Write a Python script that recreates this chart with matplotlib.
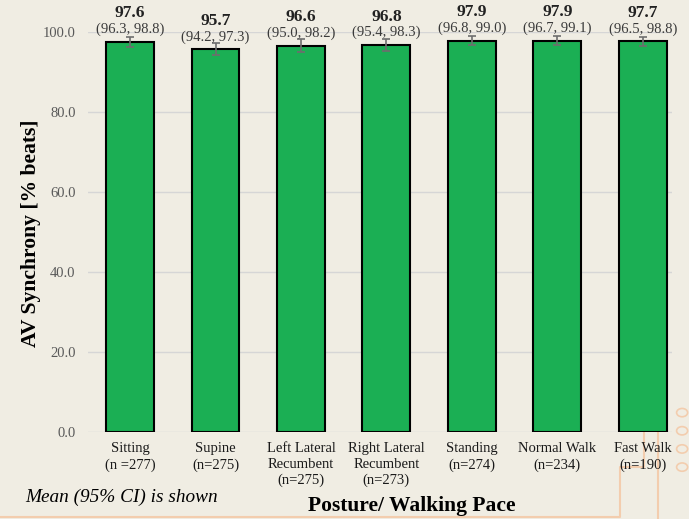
import numpy as np
import matplotlib
matplotlib.use("Agg")
import matplotlib.pyplot as plt
from matplotlib.lines import Line2D

# Data
categories = ["Sitting\n(n =277)", "Supine\n(n=275)", "Left Lateral\nRecumbent\n(n=275)",
              "Right Lateral\nRecumbent\n(n=273)", "Standing\n(n=274)",
              "Normal Walk\n(n=234)", "Fast Walk\n(n=190)"]
means = [97.6, 95.7, 96.6, 96.8, 97.9, 97.9, 97.7]
ci_low = [96.3, 94.2, 95.0, 95.4, 96.8, 96.7, 96.5]
ci_high = [98.8, 97.3, 98.2, 98.3, 99.0, 99.1, 98.8]
yticks = [0, 20, 40, 60, 80, 100]

bg = "#F0EDE3"
plt.rcParams["font.family"] = ["Liberation Serif", "DejaVu Serif"]

fig = plt.figure(figsize=(6.89, 5.19), dpi=100, facecolor=bg)
ax = fig.add_axes([0.128, 0.168, 0.847, 0.770])
ax.set_facecolor(bg)

# decorative circuit lines (background)
deco = "#F3CDAE"
for xs, ys in [([0.0, 0.90, 0.90, 0.935, 0.935], [0.004, 0.004, 0.10, 0.10, 0.20]),
               ([0.955, 0.955], [0.0, 0.22])]:
    fig.add_artist(Line2D(xs, ys, color=deco, lw=1.5, zorder=0))
for yy in [0.10, 0.135, 0.17, 0.205]:
    fig.add_artist(plt.Circle((0.99, yy), 0.008, fill=False, ec=deco, lw=1.2,
                              transform=fig.transFigure, zorder=0))

x = np.arange(len(categories))
means = np.array(means)
err = [means - np.array(ci_low), np.array(ci_high) - means]

ax.bar(x, means, width=0.56, color="#1BAF54", edgecolor="black", linewidth=1.5, zorder=3)
ax.errorbar(x, means, yerr=err, fmt="none", ecolor="#6E6E6E", elinewidth=1.2,
            capsize=3, capthick=1.2, zorder=4)

for xi, m, lo, hi in zip(x, means, ci_low, ci_high):
    ax.annotate(f"{m:.1f}", (xi, m), xytext=(0, 17.5), textcoords="offset points",
                ha="center", va="baseline", fontsize=12.5, fontweight="bold",
                color="#222222", annotation_clip=False)
    ax.annotate(f"({lo:.1f}, {hi:.1f})", (xi, m), xytext=(0, 6.3), textcoords="offset points",
                ha="center", va="baseline", fontsize=10.5, color="#3A3A3A",
                annotation_clip=False, zorder=5)

ax.set_ylim(0, 100)
ax.set_xlim(-0.49, 6.34)
ax.set_yticks(yticks)
ax.set_yticklabels([f"{v:.1f}" for v in yticks], fontsize=10.5, color="#595959")
ax.set_xticks(x)
ax.set_xticklabels(categories, fontsize=10.5, color="#1A1A1A", linespacing=1.28)
ax.tick_params(axis="both", length=0)
ax.tick_params(axis="x", pad=7.5)
ax.tick_params(axis="y", pad=9)
ax.grid(axis="y", color="#D6D6D6", linewidth=1.0, zorder=0)
for s in ax.spines.values():
    s.set_visible(False)

ax.set_ylabel("AV Synchrony [% beats]", fontsize=15.6, fontweight="bold")
ax.yaxis.set_label_coords(-0.0805, 0.4975)
fig.text(0.598, 0.005, "Posture/ Walking Pace", fontsize=15.5, fontweight="bold",
         ha="center", va="bottom")
fig.text(0.036, 0.025, "Mean (95% CI) is shown", fontsize=13.9, fontstyle="italic",
         ha="left", va="bottom")

fig.savefig("out.png", dpi=100, facecolor=bg)
